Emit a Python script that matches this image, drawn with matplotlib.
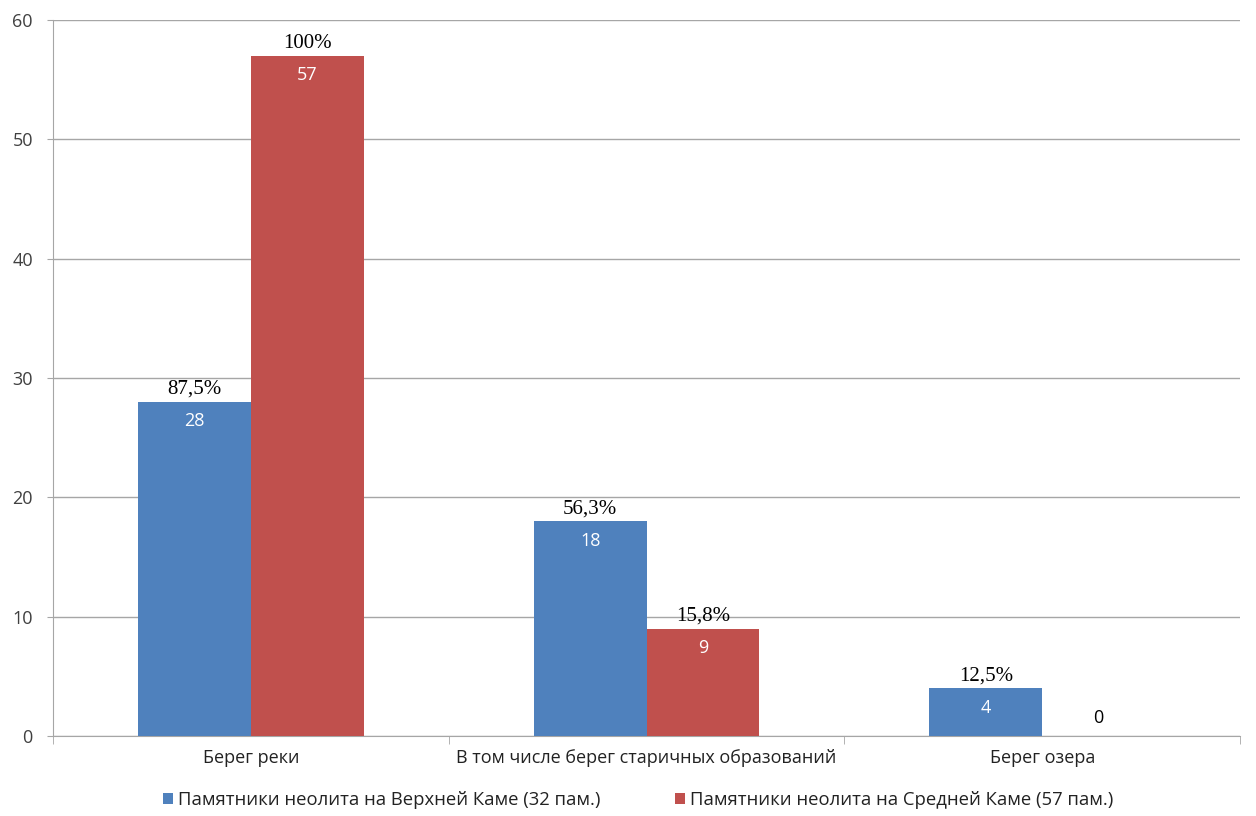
import numpy as np
import matplotlib.pyplot as plt

categories = ['Берег реки', 'В том числе берег старичных образований', 'Берег озера']
upper_kama = [28, 18, 4]
middle_kama = [57, 9, 0]
upper_pct = ['87,5%', '56,3%', '12,5%']
middle_pct = ['100%', '15,8%', '']
series_names = ['Памятники неолита на Верхней Каме (32 пам.)',
                'Памятники неолита на Средней Каме (57 пам.)']

blue = '#4F81BD'
red = '#C0504D'
grid_col = '#A6A6A6'

fig = plt.figure(figsize=(12.56, 8.16), dpi=100)
ax = fig.add_axes([0.0422, 0.098, 0.9451, 0.8775])

x = np.arange(len(categories))
w = 0.285
b1 = ax.bar(x - w / 2, upper_kama, w, color=blue, label=series_names[0], zorder=3)
b2 = ax.bar(x + w / 2, middle_kama, w, color=red, label=series_names[1], zorder=3)

ax.set_xlim(-0.5, 2.5)
ax.set_ylim(0, 60)
ax.set_yticks(range(0, 61, 10))
ax.yaxis.grid(True, color=grid_col, linewidth=1.0, zorder=0)
ax.set_axisbelow(True)

for s in ['top', 'right']:
    ax.spines[s].set_visible(False)
ax.spines['left'].set_color(grid_col)
ax.spines['bottom'].set_color(grid_col)

ax.tick_params(axis='y', length=4.5, color=grid_col, labelsize=13, labelcolor='#404040', pad=10)
for lab in ax.get_yticklabels():
    lab.set_family('Open Sans')

ax.set_xticks(x)
ax.set_xticklabels(categories, fontsize=13, family='Open Sans', color='#222222')
ax.tick_params(axis='x', length=0, pad=9)
# category boundary ticks
ax.set_xticks([-0.5, 0.5, 1.5, 2.5], minor=True)
ax.tick_params(axis='x', which='minor', length=6, color=grid_col)

for bars, vals, pcts in [(b1, upper_kama, upper_pct), (b2, middle_kama, middle_pct)]:
    for rect, v, p in zip(bars, vals, pcts):
        cx = rect.get_x() + rect.get_width() / 2
        if v > 0:
            ax.annotate(str(v), (cx, v), xytext=(0, -14), textcoords='offset points',
                        ha='center', va='center', color='white', fontsize=13, family='Open Sans')
            ax.annotate(p, (cx, v), xytext=(0, 9), textcoords='offset points',
                        ha='center', va='center', color='black', fontsize=15, family='Liberation Serif')
        else:
            ax.annotate(str(v), (cx, v), xytext=(0, 13), textcoords='offset points',
                        ha='center', va='center', color='black', fontsize=13, family='Open Sans')

leg = fig.legend(loc='center', bbox_to_anchor=(0.508, 0.02), ncol=2, frameon=False,
                 handlelength=0.55, handleheight=0.55, handletextpad=0.3, columnspacing=4.0,
                 prop={'family': 'Open Sans', 'size': 13.3})
for t in leg.get_texts():
    t.set_color('#222222')

fig.savefig('out.png', dpi=100)
